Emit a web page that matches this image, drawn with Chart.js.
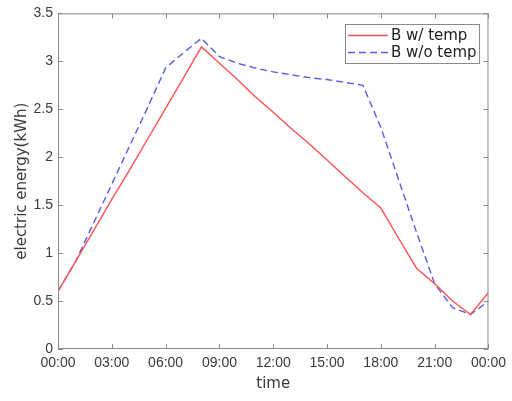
<!DOCTYPE html>
<html>
<head>
<meta charset="utf-8">
<script src="https://cdn.jsdelivr.net/npm/chart.js@4/dist/chart.umd.min.js"></script>
<style>
html,body{margin:0;padding:0;background:#fff;}
#wrap{width:512px;height:401px;position:relative;}
</style>
</head>
<body>
<div id="wrap"><canvas id="c" width="512" height="401"></canvas></div>
<script>
// Data (hours of day, 24 = next midnight)
const hours = [0,1,2,3,4,5,6,7,8,9,10,11,12,13,14,15,16,17,18,19,20,21,22,23,24];
const withTemp = [0.60,0.92,1.24,1.56,1.87,2.19,2.51,2.83,3.15,2.98,2.81,2.63,2.47,2.30,2.14,1.97,1.80,1.63,1.47,1.15,0.84,0.68,0.50,0.36,0.59];
const withoutTemp = [0.60,0.92,1.32,1.72,2.12,2.52,2.93,3.09,3.24,3.05,2.98,2.93,2.89,2.86,2.83,2.81,2.78,2.75,2.31,1.76,1.21,0.68,0.43,0.36,0.50];
const seriesNames = ['B w/ temp','B w/o temp'];
const xTicks = [0,3,6,9,12,15,18,21,24];
const yTicks = [0,0.5,1,1.5,2,2.5,3,3.5];

function fmtHour(h){ h = h % 24; return (h<10?'0':'')+h+':00'; }

const FONT = "'Liberation Sans', Arial, sans-serif";
const TFONT = "'DejaVu Sans', sans-serif";
const TXT = '#3a3a3a';
const AXIS = '#8a8a8a';

const insideTicks = {
  id:'insideTicks',
  afterDraw(chart){
    const ctx = chart.ctx, a = chart.chartArea;
    const xs = chart.scales.x, ys = chart.scales.y;
    ctx.save();
    ctx.strokeStyle = AXIS; ctx.lineWidth = 1;
    ctx.strokeRect(a.left+0.5, a.top+0.5, a.right-a.left-1, a.bottom-a.top-1);
    ctx.beginPath();
    const L = 5;
    xTicks.forEach(v=>{
      const px = Math.round(xs.getPixelForValue(v))+0.5;
      ctx.moveTo(px,a.bottom); ctx.lineTo(px,a.bottom-L);
      ctx.moveTo(px,a.top); ctx.lineTo(px,a.top+L);
    });
    yTicks.forEach(v=>{
      const py = Math.round(ys.getPixelForValue(v))+0.5;
      ctx.moveTo(a.left,py); ctx.lineTo(a.left+L,py);
      ctx.moveTo(a.right,py); ctx.lineTo(a.right-L,py);
    });
    ctx.stroke();
    // legend
    const bx=345, by=24, bw=134, bh=39;
    ctx.fillStyle='#fff'; ctx.fillRect(bx,by,bw,bh);
    ctx.strokeStyle=AXIS; ctx.strokeRect(bx+0.5,by+0.5,bw,bh);
    chart.data.datasets.forEach((ds,i)=>{
      const y = by + 11.5 + i*17;
      ctx.strokeStyle = ds.borderColor; ctx.lineWidth = ds.borderWidth;
      ctx.setLineDash(ds.borderDash || []);
      ctx.beginPath(); ctx.moveTo(bx+3,y); ctx.lineTo(bx+43,y); ctx.stroke();
      ctx.setLineDash([]);
      ctx.fillStyle='#222'; ctx.font='15px '+TFONT; ctx.textBaseline='middle'; ctx.textAlign='left';
      ctx.fillText(ds.label, bx+46, y+0.5);
    });
    ctx.restore();
  }
};

const toPts = arr => hours.map((h,i)=>({x:h,y:arr[i]}));

new Chart(document.getElementById('c'), {
  type:'line',
  data:{
    datasets:[
      {label:seriesNames[0], data:toPts(withTemp), borderColor:'#ff5050', borderWidth:1.4, pointRadius:0, tension:0, fill:false},
      {label:seriesNames[1], data:toPts(withoutTemp), borderColor:'#5a5aea', borderWidth:1.4, borderDash:[7,4], pointRadius:0, tension:0, fill:false}
    ]
  },
  options:{
    responsive:false, animation:false, devicePixelRatio:1,
    layout:{padding:{left:0,right:22,top:12,bottom:0}},
    plugins:{legend:{display:false}, tooltip:{enabled:false}},
    scales:{
      x:{
        type:'linear', min:0, max:24,
        afterBuildTicks(s){ s.ticks = xTicks.map(v=>({value:v})); },
        afterFit(s){ s.height = 52; },
        grid:{drawOnChartArea:false, drawTicks:false},
        border:{display:false},
        ticks:{callback:v=>fmtHour(v), color:TXT, font:{family:FONT,size:14}, padding:6, maxRotation:0, autoSkip:false},
        title:{display:true, text:'time', color:TXT, font:{family:TFONT,size:15}, padding:{top:2,bottom:8}}
      },
      y:{
        min:0, max:3.5,
        afterBuildTicks(s){ s.ticks = yTicks.map(v=>({value:v})); },
        afterFit(s){ s.width = 58; },
        grid:{drawOnChartArea:false, drawTicks:false},
        border:{display:false},
        ticks:{callback:v=>String(v), color:TXT, font:{family:FONT,size:14}, padding:5},
        title:{display:true, text:'electric energy(kWh)', color:TXT, font:{family:TFONT,size:15}, padding:{top:13,bottom:0}}
      }
    }
  },
  plugins:[insideTicks]
});
</script>
</body>
</html>
